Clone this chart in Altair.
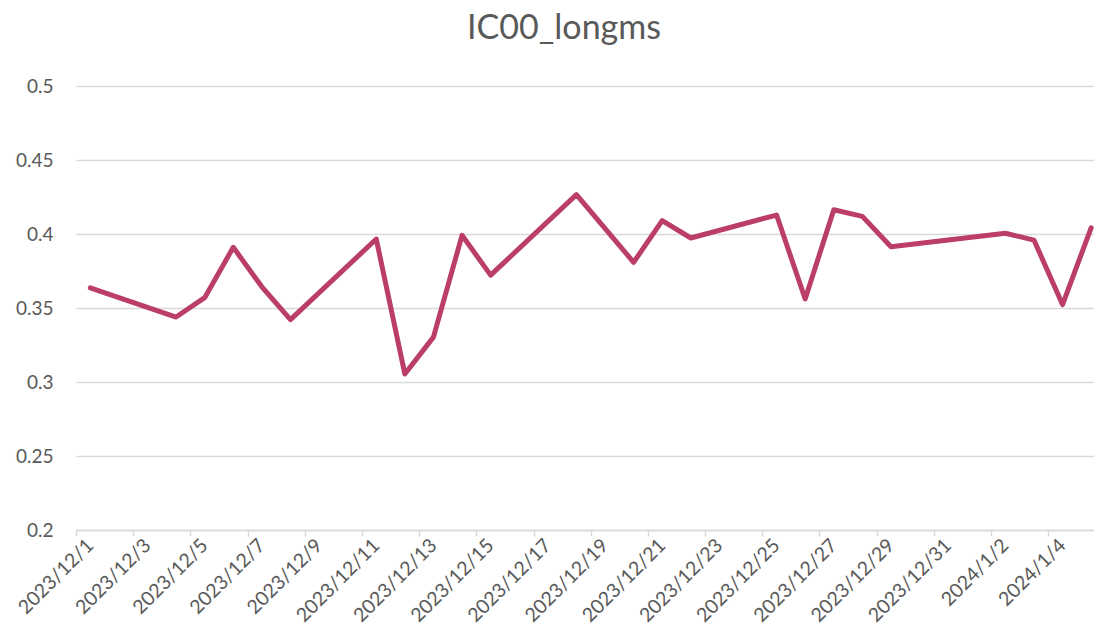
import altair as alt
import pandas as pd

# ---- data ----
chart_title = "IC00_longms"
dates = [
    "2023-12-01", "2023-12-04", "2023-12-05", "2023-12-06", "2023-12-07",
    "2023-12-08", "2023-12-11", "2023-12-12", "2023-12-13", "2023-12-14",
    "2023-12-15", "2023-12-18", "2023-12-20", "2023-12-21", "2023-12-22",
    "2023-12-25", "2023-12-26", "2023-12-27", "2023-12-28", "2023-12-29",
    "2024-01-02", "2024-01-03", "2024-01-04", "2024-01-05",
]
values = [
    0.3636, 0.3439, 0.3570, 0.3910, 0.3643,
    0.3421, 0.3966, 0.3054, 0.3303, 0.3991,
    0.3722, 0.4266, 0.3809, 0.4090, 0.3973,
    0.4128, 0.3561, 0.4164, 0.4119, 0.3914,
    0.4005, 0.3959, 0.3523, 0.4042,
]
tick_dates = [
    (2023, 12, 1), (2023, 12, 3), (2023, 12, 5), (2023, 12, 7), (2023, 12, 9),
    (2023, 12, 11), (2023, 12, 13), (2023, 12, 15), (2023, 12, 17), (2023, 12, 19),
    (2023, 12, 21), (2023, 12, 23), (2023, 12, 25), (2023, 12, 27), (2023, 12, 29),
    (2023, 12, 31), (2024, 1, 2), (2024, 1, 4),
]
y_ticks = [0.2, 0.25, 0.3, 0.35, 0.4, 0.45, 0.5]
# visible window of the date axis (the reference is cut at the right edge)
x_start = (2023, 12, 1, 0, 0)
x_end = (2024, 1, 5, 14, 24)

# ---- build table ----
df = pd.DataFrame({"date": [d + "T12:00:00" for d in dates], "value": values})

def dt(t):
    if len(t) == 5:
        return alt.DateTime(year=t[0], month=t[1], date=t[2], hours=t[3], minutes=t[4])
    return alt.DateTime(year=t[0], month=t[1], date=t[2])

GRAY_TXT = "#595959"
GRID = "#d9d9d9"
FONT = "Lato"

chart = (
    alt.Chart(df)
    .mark_line(color="#bb3e66", strokeWidth=5, strokeCap="round", strokeJoin="round")
    .encode(
        x=alt.X(
            "date:T",
            scale=alt.Scale(domain=[dt(x_start), dt(x_end)]),
            axis=alt.Axis(
                title=None,
                values=[dt(t) for t in tick_dates],
                labelExpr="timeFormat(datum.value, '%Y/%-m/%-d')",
                labelAngle=-45,
                labelAlign="right",
                labelBaseline="middle",
                labelOffset=14,
                labelPadding=6,
                labelFontSize=19.5,
                labelFont=FONT,
                labelColor=GRAY_TXT,
                labelOverlap=False,
                labelBound=False,
                tickSize=6,
                tickColor=GRID,
                tickWidth=1.5,
                domainColor=GRID,
                domainWidth=1.5,
                grid=False,
            ),
        ),
        y=alt.Y(
            "value:Q",
            scale=alt.Scale(domain=[0.2, 0.5], nice=False, zero=False),
            axis=alt.Axis(
                title=None,
                values=y_ticks,
                format=".2~f",
                labelFontSize=19,
                labelFont=FONT,
                labelColor=GRAY_TXT,
                labelPadding=23,
                ticks=False,
                domain=False,
                grid=True,
                gridColor=GRID,
                gridWidth=1.5,
            ),
        ),
    )
    .properties(
        width=1018,
        height=444,
        autosize="none",
        padding={"left": 68, "top": 78, "right": 0, "bottom": 96},
        title=alt.TitleParams(
            text=chart_title,
            anchor="middle",
            frame="group",
            dx=-21,
            offset=4,
            baseline="alphabetic",
            fontSize=34,
            font=FONT,
            fontWeight="normal",
            color=GRAY_TXT,
        ),
    )
    .configure_view(stroke=None)
)

chart.save("out.html", embed_options={"renderer": "svg", "actions": False})
